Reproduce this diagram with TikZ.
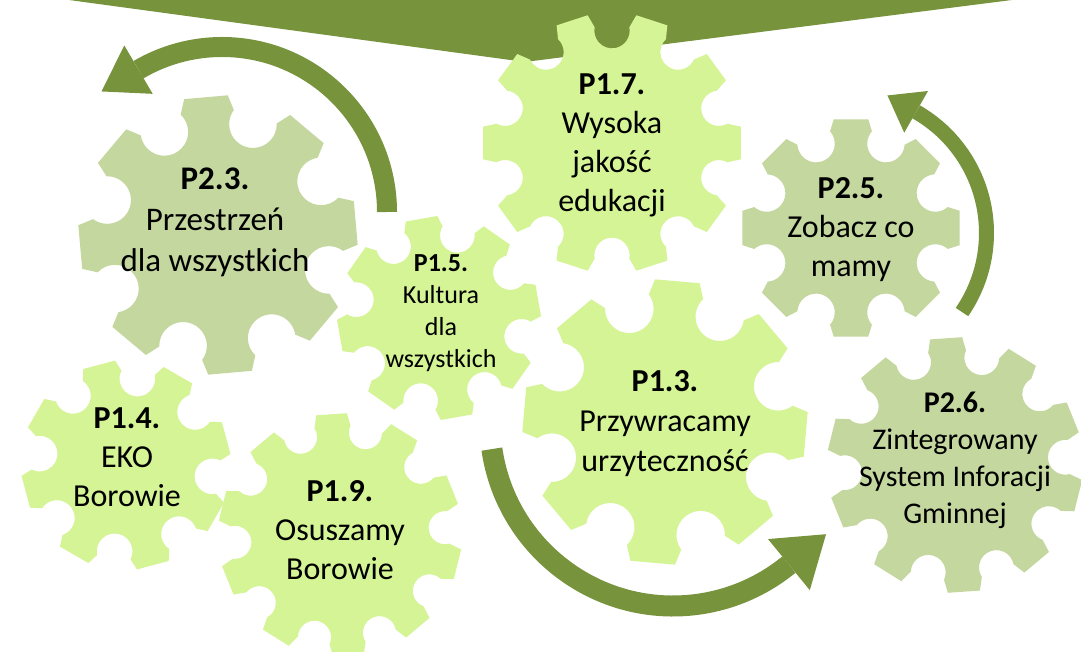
\documentclass[tikz,border=0pt]{standalone}
\usepackage{fontspec}
\setmainfont{Carlito}
\usetikzlibrary{calc}
\definecolor{lime}{HTML}{D4F495}
\definecolor{sage}{HTML}{C4D79F}
\definecolor{olive}{HTML}{77933C}
\newcommand\gearshape[6]{%
  \begin{scope}[shift={(#1,#2)}]
  \pgfmathsetmacro\gR{#3}
  \pgfmathsetmacro\gstep{360/#4}
  \pgfmathsetmacro\grf{0.17*8/#4}
  \pgfmathsetmacro\gdcf{1-0.34*8/#4+\grf}
  \pgfmathsetmacro\grmf{0.9}
  \pgfmathsetmacro\gtz{acos((\grmf*\grmf-\gdcf*\gdcf-\grf*\grf)/(2*\gdcf*\grf))}
  \pgfmathsetmacro\gr{\grf*#3}
  \pgfmathsetmacro\gdc{\gdcf*#3}
  \pgfmathsetmacro\galpha{9*8/#4}
  \pgfmathsetmacro\gphiL{#5-\gstep/2}
  \pgfmathtruncatemacro\gNm{#4-1}
  \fill[#6] ([shift={(\gphiL:\gdc)}]\gphiL+\gtz:\gr)
    \foreach \k [evaluate=\k as \th using #5+\gstep*\k, evaluate=\k as \ph using #5+\gstep*(\k+0.5)] in {0,...,\gNm}{
      -- (\th-\galpha:\gR) -- (\th+\galpha:\gR)
      -- ([shift={(\ph:\gdc)}]\ph-\gtz:\gr)
      arc[start angle=\ph-\gtz, end angle=\ph-360+\gtz, radius=\gr]
    } -- cycle;
  \end{scope}}
\newcommand\blockarc[8]{%
  \draw[olive, line width=#6pt] ([shift={(#1,#2)}]#4:#3) arc[start angle=#4, end angle=#5, radius=#3];
  \fill[olive] ([shift={(#1,#2)}]#5:#3-#7) -- ([shift={(#1,#2)}]#5:#3+#7)
     -- ($([shift={(#1,#2)}]#5:#3)+(#5+90:#8)$) -- cycle;}
\tikzset{lbl/.style={align=center, text=black, inner sep=0pt, font=\fontsize{32}{39}\selectfont}}
\begin{document}
\begin{tikzpicture}[x=1pt,y=1pt]
\fill[white] (0,0) rectangle (1081,652);
\useasboundingbox (0,0) rectangle (1081,652);
% banner triangle
\fill[olive] (69,660) -- (1012,660) -- (1012,652) -- (525,590) -- (69,652) -- cycle;
% gears
\gearshape{612}{509}{130}{10}{0}{lime}
\gearshape{218}{417}{140}{8}{5}{sage}
\gearshape{439}{334}{102}{8}{10}{lime}
\gearshape{665}{230}{143}{8}{40}{lime}
\gearshape{851}{424}{110}{8}{0}{sage}
\gearshape{955}{187}{128}{10}{22}{sage}
\gearshape{126}{187}{105}{8}{15}{lime}
\gearshape{340}{117}{122}{10}{22}{lime}
% arrows
\blockarc{222}{440}{165}{0}{120.4}{20}{28}{43}
\blockarc{847}{419}{139.5}{-34.5}{60.3}{15}{24}{33}
\blockarc{673}{229}{183}{188.2}{309.3}{21}{33}{48}
% labels
\node[lbl, font=\fontsize{33}{41}\selectfont] (p23) at (215,430) {\textbf{P2.3.}\\Przestrzeń\\dla wszystkich};
\node[lbl] (p17) at (612,507) {\textbf{P1.7.}\\Wysoka\\jakość\\edukacji};
\node[lbl, font=\fontsize{26}{32}\selectfont] (p15) at (441,339) {\textbf{P1.5.}\\Kultura\\dla\\wszystkich};
\node[lbl, font=\fontsize{32}{40}\selectfont] (p13) at (665,228) {\textbf{P1.3.}\\Przywracamy\\urzyteczność};
\node[lbl] (p25) at (851,422) {\textbf{P2.5.}\\Zobacz co\\mamy};
\node[lbl, font=\fontsize{30}{37}\selectfont] (p26) at (955,192) {\textbf{P2.6.}\\Zintegrowany\\System Inforacji\\Gminnej};
\node[lbl] (p14) at (127,195) {\textbf{P1.4.}\\EKO\\Borowie};
\node[lbl] (p19) at (340,122) {\textbf{P1.9.}\\Osuszamy\\Borowie};
\end{tikzpicture}
\end{document}
